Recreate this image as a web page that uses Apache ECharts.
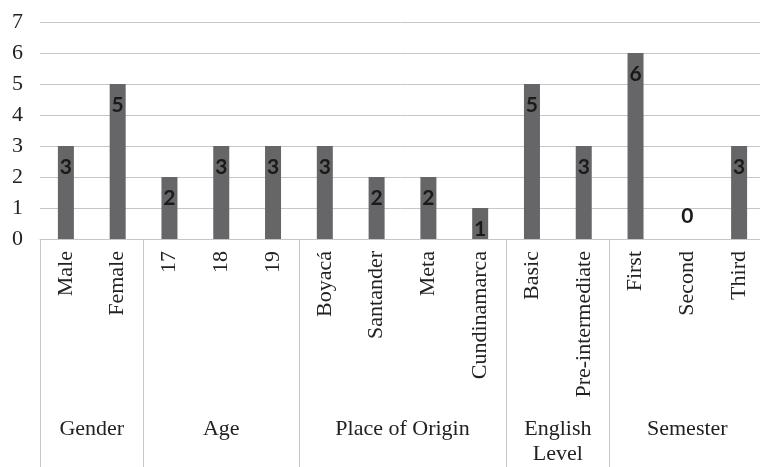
<!DOCTYPE html>
<html>
<head>
<meta charset="utf-8">
<script src="https://cdn.jsdelivr.net/npm/echarts@6/dist/echarts.min.js"></script>
<style>
  html, body { margin: 0; padding: 0; background: #fff; }
  #chart { width: 760px; height: 467px; }
</style>
</head>
<body>
<div id="chart"></div>
<script>
// categories and values
const categories = ['Male', 'Female', '17', '18', '19', 'Boyacá', 'Santander', 'Meta',
  'Cundinamarca', 'Basic', 'Pre-intermediate', 'First', 'Second', 'Third']
const values = [3, 5, 2, 3, 3, 3, 2, 2, 1, 5, 3, 6, 0, 3]
const groupNames = ['Gender', 'Age', 'Place of Origin', 'English\nLevel', 'Semester']
const groupSizes = [2, 3, 4, 2, 3]
const yTicks = [0, 1, 2, 3, 4, 5, 6, 7]

// group boundaries and centres, in category units
const bounds = [0]
groupSizes.forEach(n => bounds.push(bounds[bounds.length - 1] + n))
const centres = groupSizes.map((n, i) => bounds[i] + n / 2)

const serif = '"Liberation Serif", "Times New Roman", serif'
const lineGrey = '#c6c6c6'

const chart = echarts.init(document.getElementById('chart'))
chart.setOption({
  animation: false,
  grid: { left: 40, right: -5, top: 22, bottom: 228, outerBoundsMode: 'none' },
  xAxis: [
    {
      type: 'category',
      data: categories,
      axisLine: { lineStyle: { color: lineGrey, width: 1 } },
      axisTick: { show: false },
      axisLabel: {
        rotate: 90,
        interval: 0,
        margin: 12,
        fontFamily: serif,
        fontSize: 22,
        color: '#222'
      }
    },
    {
      type: 'value',
      position: 'bottom',
      min: 0,
      max: categories.length,
      splitLine: { show: false },
      axisLine: { show: false },
      axisTick: {
        show: true,
        customValues: bounds,
        length: 232,
        lineStyle: { color: lineGrey, width: 1 }
      },
      axisLabel: {
        customValues: centres,
        margin: 178,
        verticalAlign: 'top',
        fontFamily: serif,
        fontSize: 22,
        lineHeight: 25,
        color: '#222',
        formatter: v => groupNames[centres.indexOf(v)]
      }
    }
  ],
  yAxis: {
    type: 'value',
    min: yTicks[0],
    max: yTicks[yTicks.length - 1],
    interval: 1,
    axisLine: { show: false },
    axisTick: { show: false },
    splitLine: { lineStyle: { color: lineGrey, width: 1 } },
    axisLabel: {
      margin: 17,
      fontFamily: serif,
      fontSize: 22,
      color: '#222'
    }
  },
  series: [
    {
      type: 'bar',
      xAxisIndex: 0,
      barWidth: 16,
      itemStyle: { color: '#666668' },
      label: {
        show: true,
        position: 'insideTop',
        distance: 11,
        fontFamily: 'Lato, "Open Sans", sans-serif',
        fontWeight: 'bold',
        fontSize: 21,
        color: '#1a1a1a'
      },
      data: values.map(v => v === 0
        ? { value: v, label: { position: 'top', distance: 12 } }
        : v)
    }
  ]
})
</script>
</body>
</html>
